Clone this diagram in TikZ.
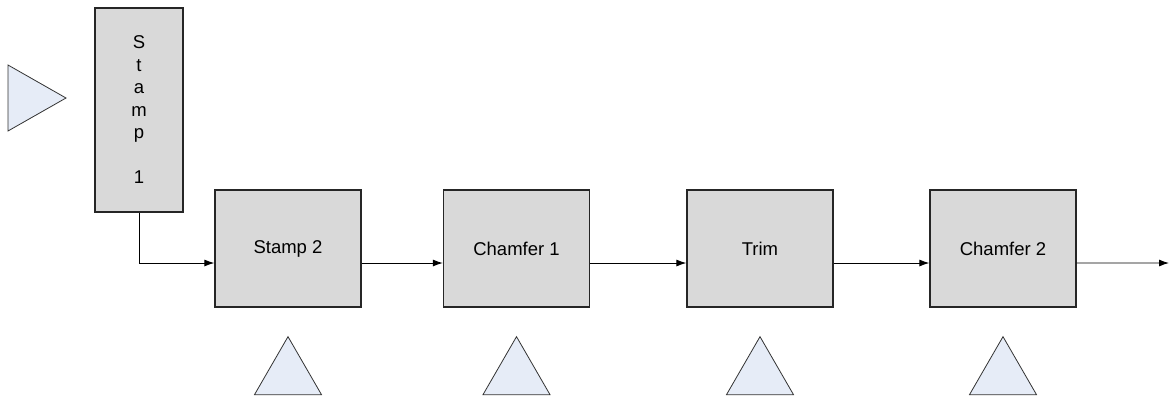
\documentclass[tikz,border=0pt]{standalone}
\usepackage{fontspec}
\setmainfont{Liberation Sans}
\usetikzlibrary{arrows.meta,positioning,calc}
\definecolor{boxgray}{HTML}{D9D9D9}
\definecolor{trifill}{HTML}{E6ECF7}
\tikzstyle{op} = [draw=black!85, line width=1.3bp, fill=boxgray,%
	minimum width=146bp, minimum height=117bp, inner sep=0pt,%
	font=\fontsize{18.5bp}{22.5bp}\selectfont]
\tikzstyle{flow} = [draw=black, line width=0.9bp, -{Latex[length=10bp,width=7bp]}]
\tikzstyle{tri} = [draw=black!80, line width=0.8bp, fill=trifill, line join=miter]

\begin{document}
\begin{tikzpicture}[x=1bp, y=-1bp]
	\useasboundingbox (0,0) rectangle (1169,396);
	\draw[tri] (8,65) -- (66,98) -- (8,131) -- cycle;
	\node[op, minimum width=88bp, minimum height=204bp, align=center] (st1) at (139,110) {S\\t\\a\\m\\p\\ \\1};
	\node[op] (s2) at (288,248.5) {Stamp 2};
	\node[op] (c1) at (516.5,248.5) {Chamfer 1};
	\node[op] (tr) at (760,248.5) {Trim};
	\node[op] (c2) at (1003,248.5) {Chamfer 2};
	\coordinate (out) at (1169,263);
	\draw[flow] (st1.south) |- ([yshift=-14.5bp]s2.west);
	\draw[flow] ([yshift=-14.5bp]s2.east) -- ([yshift=-14.5bp]c1.west);
	\draw[flow] ([yshift=-14.5bp]c1.east) -- ([yshift=-14.5bp]tr.west);
	\draw[flow] ([yshift=-14.5bp]tr.east) -- ([yshift=-14.5bp]c2.west);
	\draw[flow] ([yshift=-14.5bp]c2.east) -- (out);
	\foreach \b in {s2,c1,tr,c2}
		\draw[tri] ($(\b.south)+(0,29)$) -- ++(33.5,58) -- ++(-67,0) -- cycle;
\end{tikzpicture}
\end{document}
